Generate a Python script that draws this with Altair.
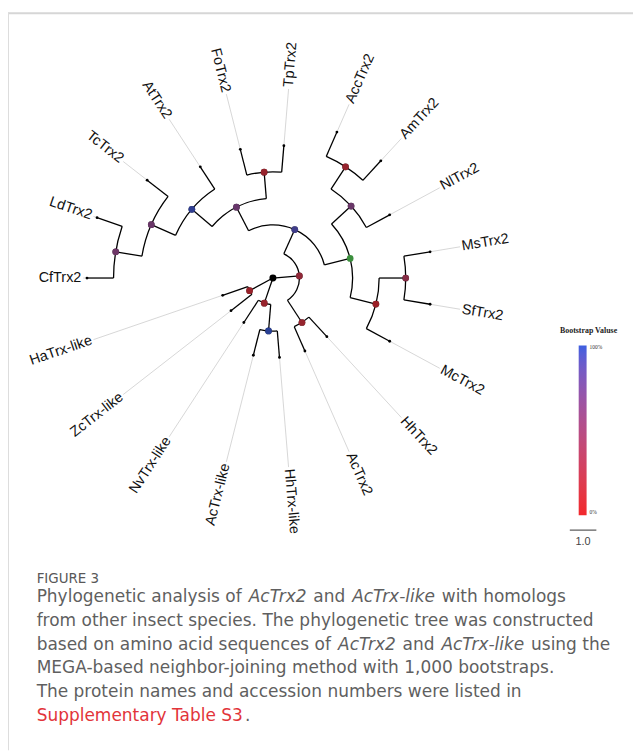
import math
from collections import defaultdict

import altair as alt
import pandas as pd

# ---------------- data ----------------
LEAVES = ["CfTrx2", "LdTrx2", "TcTrx2", "AtTrx2", "FoTrx2", "TpTrx2", "AccTrx2",
          "AmTrx2", "NlTrx2", "MsTrx2", "SfTrx2", "McTrx2", "HhTrx2", "AcTrx2",
          "HhTrx-like", "AcTrx-like", "NvTrx-like", "ZcTrx-like", "HaTrx-like"]

EDGE_CHILD = ["nA", "nE", "nF",
              "nB", "nH",
              "nC", "nD",
              "nP3", "nR1",
              "AtTrx2", "nP2",
              "TcTrx2", "nP1",
              "LdTrx2", "CfTrx2",
              "FoTrx2", "TpTrx2",
              "nP4", "nR4",
              "nR2", "NlTrx2",
              "AccTrx2", "AmTrx2",
              "nR3", "McTrx2",
              "MsTrx2", "SfTrx2",
              "HhTrx2", "AcTrx2",
              "nG", "NvTrx-like",
              "HhTrx-like", "AcTrx-like",
              "ZcTrx-like", "HaTrx-like"]
EDGE_PARENT = ["root", "root", "root",
               "nA", "nA",
               "nB", "nB",
               "nC", "nC",
               "nP3", "nP3",
               "nP2", "nP2",
               "nP1", "nP1",
               "nR1", "nR1",
               "nD", "nD",
               "nP4", "nP4",
               "nR2", "nR2",
               "nR4", "nR4",
               "nR3", "nR3",
               "nH", "nH",
               "nF", "nF",
               "nG", "nG",
               "nE", "nE"]
EDGE_LEN = [1.0, 1.0, 1.0,
            1.0, 1.0,
            1.0, 1.0,
            1.0, 1.0,
            1.0, 1.0,
            1.0, 1.0,
            1.0, 1.0,
            1.0, 1.0,
            1.0, 1.0,
            1.0, 1.0,
            1.0, 1.0,
            1.0, 1.0,
            1.0, 1.0,
            1.0, 1.0,
            1.0, 1.0,
            1.0, 1.0,
            1.0, 1.0]

NODE_NAMES = ["nA", "nB", "nC", "nD", "nE", "nF", "nG", "nH",
              "nP1", "nP2", "nP3", "nP4", "nR1", "nR2", "nR3", "nR4"]
BOOTSTRAP = [22, 92, 66, None, 10, 12, 100, 14,
             62, 64, 98, 64, 12, 14, 34, 8]

SCALE_BAR_LEN = 1.0
LEGEND_VALUES = [0, 100]

CAPTION_HEAD = "FIGURE 3"
CAPTION_SEGMENTS = [
    # (line, text, italic, link)
    (0, "Phylogenetic analysis of", False, False),
    (0, "AcTrx2", True, False),
    (0, "and", False, False),
    (0, "AcTrx-like", True, False),
    (0, "with homologs", False, False),
    (1, "from other insect species. The phylogenetic tree was constructed", False, False),
    (2, "based on amino acid sequences of", False, False),
    (2, "AcTrx2", True, False),
    (2, "and", False, False),
    (2, "AcTrx-like", True, False),
    (2, "using the", False, False),
    (3, "MEGA-based neighbor-joining method with 1,000 bootstraps.", False, False),
    (4, "The protein names and accession numbers were listed in", False, False),
    (5, "Supplementary Table S3", False, True),
    (5, ".", False, False),
]
# segments that follow the previous one without a space
NO_SPACE_BEFORE = ["."]

# ---------------- layout ----------------
W, H = 633, 747
PX = 26.9            # pixels per branch-length unit
CX, CY = 268.3, 268.7  # root position inside the view
N = len(LEAVES)
START = 270.0
STEP = 360.0 / N
R_LABEL = 194.0 / PX
FONT = "Liberation Sans"
LABEL_SIZE = 14.6
CAP_FONT = "DejaVu Sans"
CAP_SIZE = 17.2
CAP_X0 = 37.0
CAP_LINE_Y = [600, 624, 648, 672, 696, 720]

# DejaVu Sans advance widths (units of 1/2048 em) for caption layout
ADV = {" ": 651, ".": 651, "-": 739, ",": 651, "2": 1303, "A": 1401, "M": 1767,
       "P": 1235, "S": 1300, "T": 1251, "a": 1255, "b": 1300, "c": 1126, "d": 1300,
       "e": 1260, "f": 721, "g": 1300, "h": 1298, "i": 569, "k": 1186, "l": 569,
       "m": 1995, "n": 1298, "o": 1253, "p": 1300, "q": 1300, "r": 842, "s": 1067,
       "t": 803, "u": 1298, "x": 1212, "y": 1212, "w": 1675}


def text_w(s):
    return sum(ADV.get(ch, 1250) for ch in s) / 2048.0 * CAP_SIZE


XMIN, XMAX = -CX / PX, (W - CX) / PX
YMAX, YMIN = CY / PX, -(H - CY) / PX


def ux(px):
    return (px - 8 - CX) / PX


def uy(py):
    return (CY - (py - 8)) / PX


children = defaultdict(list)
parent, blen = {}, {}
for c, p, l in zip(EDGE_CHILD, EDGE_PARENT, EDGE_LEN):
    children[p].append(c)
    parent[c] = p
    blen[c] = l

depth = {"root": 0.0}
pos = {}


def walk(n):
    for c in children[n]:
        depth[c] = depth[n] + blen[c]
        walk(c)
    if n in LEAVES:
        pos[n] = float(LEAVES.index(n))
    else:
        pos[n] = sum(pos[c] for c in children[n]) / len(children[n])


walk("root")

branch_df = pd.DataFrame({
    "pos": [pos[c] for c in EDGE_CHILD],
    "r0": [depth[p] for p in EDGE_PARENT],
    "r1": [depth[c] for c in EDGE_CHILD],
})
arc_df = pd.DataFrame({
    "r": [depth[n] for n in NODE_NAMES],
    "p0": [min(pos[c] for c in children[n]) for n in NODE_NAMES],
    "p1": [max(pos[c] for c in children[n]) for n in NODE_NAMES],
})
node_df = pd.DataFrame({
    "pos": [pos[n] for n in NODE_NAMES],
    "r": [depth[n] for n in NODE_NAMES],
    "boot": BOOTSTRAP,
})
root_df = pd.DataFrame({"pos": [pos["root"]], "r": [0.0]})
tip_df = pd.DataFrame({
    "name": LEAVES,
    "pos": [pos[n] for n in LEAVES],
    "r": [depth[n] for n in LEAVES],
    "rl": [R_LABEL] * N,
})

XS = alt.Scale(domain=[XMIN, XMAX], nice=False, zero=False)
YS = alt.Scale(domain=[YMIN, YMAX], nice=False, zero=False)
TS = alt.Scale(type="linear", domain=[0, 360], range=[0, 2 * math.pi], zero=False)
RS = alt.Scale(type="linear", domain=[0, 10], range=[0, 10 * PX], zero=True)

theta_expr = f"{START} + datum.pos * {STEP}"
sin_t = "sin(datum.theta * PI / 180)"
cos_t = "cos(datum.theta * PI / 180)"


def polar(chart, rfield="r", xname="x", yname="y"):
    return chart.transform_calculate(
        **{xname: f"datum.{rfield} * {sin_t}", yname: f"datum.{rfield} * {cos_t}"})


def X(f):
    return alt.X(f, type="quantitative", scale=XS, axis=None)


def Y(f):
    return alt.Y(f, type="quantitative", scale=YS, axis=None)


# radial branches
branches = polar(polar(alt.Chart(branch_df).transform_calculate(theta=theta_expr),
                       "r0", "x0", "y0"), "r1", "x1", "y1").mark_rule(
    color="black", strokeWidth=1.3).encode(
    x=X("x0"), y=Y("y0"), x2="x1:Q", y2="y1:Q")

# arcs (node connectors)
arcs = alt.Chart(arc_df).transform_calculate(
    a0=f"{START} + datum.p0 * {STEP}", a1=f"{START} + datum.p1 * {STEP}"
).mark_arc(filled=False, stroke="black", strokeWidth=1.3).encode(
    x=alt.XDatum(0, type="quantitative", scale=XS, axis=None),
    y=alt.YDatum(0, type="quantitative", scale=YS, axis=None),
    theta=alt.Theta("a0:Q", scale=TS, stack=False),
    theta2="a1:Q",
    radius=alt.Radius("r:Q", scale=RS),
    radius2="r:Q",
)

# leader lines
leaders = polar(polar(alt.Chart(tip_df).transform_calculate(theta=theta_expr),
                      "r", "x0", "y0").transform_calculate(rl2="datum.rl - 0.07"),
                "rl2", "x1", "y1").mark_rule(color="#c4c4c4", strokeWidth=0.7).encode(
    x=X("x0"), y=Y("y0"), x2="x1:Q", y2="y1:Q")

tips = polar(alt.Chart(tip_df).transform_calculate(theta=theta_expr)).mark_circle(
    size=8, color="black", opacity=1).encode(x=X("x"), y=Y("y"))

base_nodes = polar(alt.Chart(node_df).transform_calculate(theta=theta_expr))
node_under = base_nodes.transform_filter("isValid(datum.boot)").mark_circle(
    size=46, color="black", opacity=1).encode(x=X("x"), y=Y("y"))
node_col = base_nodes.transform_filter("isValid(datum.boot)").mark_circle(
    size=46, opacity=0.66).encode(
    x=X("x"), y=Y("y"),
    color=alt.Color("boot:Q",
                    scale=alt.Scale(domain=[0, 100], range=["#f2282c", "#3d5fe0"],
                                    interpolate="lab"),
                    legend=alt.Legend(title=None, orient="none", legendX=578, legendY=337,
                                      direction="vertical", gradientLength=172,
                                      gradientThickness=8, gradientOpacity=1,
                                      gradientStrokeWidth=0, values=LEGEND_VALUES,
                                      labelExpr="datum.value + '%'",
                                      labelFont="Liberation Serif", labelFontSize=5.5,
                                      labelColor="#333333", labelOffset=3)))
node_na = base_nodes.transform_filter("!isValid(datum.boot)").mark_circle(
    size=46, color="#3b8f3d", opacity=1).encode(x=X("x"), y=Y("y"))
root = polar(alt.Chart(root_df).transform_calculate(theta=theta_expr)).mark_circle(
    size=50, color="black", opacity=1).encode(x=X("x"), y=Y("y"))

# labels
lab_base = polar(alt.Chart(tip_df).transform_calculate(theta=theta_expr), "rl").transform_calculate(
    side=f"{sin_t} >= 0 ? 'R' : 'L'",
    rotR="((datum.theta - 90) % 360 + 360) % 360",
    rotL="((datum.theta + 90) % 360 + 360) % 360",
)
lab_r = lab_base.transform_filter("datum.side == 'R'").mark_text(
    align="left", baseline="middle", font=FONT, fontSize=LABEL_SIZE, color="#111111").encode(
    x=X("x"), y=Y("y"), text="name:N", angle=alt.Angle("rotR:Q", scale=None))
lab_l = lab_base.transform_filter("datum.side == 'L'").mark_text(
    align="right", baseline="middle", font=FONT, fontSize=LABEL_SIZE, color="#111111").encode(
    x=X("x"), y=Y("y"), text="name:N", angle=alt.Angle("rotL:Q", scale=None))

# scale bar
sb_x0, sb_y = ux(577.0), uy(532.0)
sb_df = pd.DataFrame({"x0": [sb_x0], "x1": [sb_x0 + SCALE_BAR_LEN], "y": [sb_y],
                      "tx": [sb_x0 + SCALE_BAR_LEN / 2], "ty": [uy(544.0)],
                      "label": [f"{SCALE_BAR_LEN:.1f}"]})
sbar = alt.Chart(sb_df).mark_rule(color="#333333", strokeWidth=1).encode(
    x=X("x0"), x2="x1:Q", y=Y("y"))
stext = alt.Chart(sb_df).mark_text(font=FONT, fontSize=11, color="#444444",
                                   baseline="middle").encode(
    x=X("tx"), y=Y("ty"), text="label:N")

legend_title = alt.Chart(pd.DataFrame({"t": ["Bootstrap Valuse"]})).mark_text(
    font="Liberation Serif", fontSize=8, fontWeight="bold", color="#222222",
    align="center", baseline="middle").encode(
    x=alt.value(588), y=alt.value(322), text="t:N")

# caption (segments chained along each line)
seg_x = []
cursor = {}
for line, text, italic, link in CAPTION_SEGMENTS:
    if line not in cursor:
        x = CAP_X0
    elif text in NO_SPACE_BEFORE:
        x = cursor[line] - 0.5
    else:
        x = cursor[line] + text_w(" ") + (1.5 if italic else 0.0)
    seg_x.append(x)
    cursor[line] = x + text_w(text)

cap_df = pd.DataFrame({
    "text": [s[1] for s in CAPTION_SEGMENTS],
    "x": [ux(v) for v in seg_x],
    "y": [uy(CAP_LINE_Y[s[0]]) for s in CAPTION_SEGMENTS],
    "italic": [s[2] for s in CAPTION_SEGMENTS],
    "col": ["#e2343a" if s[3] else "#5f5f5f" for s in CAPTION_SEGMENTS],
})
cap_n = alt.Chart(cap_df).transform_filter("!datum.italic").mark_text(
    align="left", baseline="middle", font=CAP_FONT, fontSize=CAP_SIZE).encode(
    x=X("x"), y=Y("y"), text="text:N", color=alt.Color("col:N", scale=None))
cap_i = alt.Chart(cap_df).transform_filter("datum.italic").mark_text(
    align="left", baseline="middle", font=CAP_FONT, fontSize=CAP_SIZE, fontStyle="italic").encode(
    x=X("x"), y=Y("y"), text="text:N", color=alt.Color("col:N", scale=None))
head_df = pd.DataFrame({"t": [CAPTION_HEAD], "x": [ux(CAP_X0)], "y": [uy(581.5)]})
cap_h = alt.Chart(head_df).mark_text(align="left", baseline="middle", font=CAP_FONT,
                                     fontSize=13.6, fontWeight=500, color="#585858").encode(
    x=X("x"), y=Y("y"), text="t:N")

frame_top = alt.Chart(pd.DataFrame({"a": [0]})).mark_rule(color="#d6d6d6", strokeWidth=2).encode(
    x=alt.value(0), x2=alt.value(W), y=alt.value(0.5))
frame_left = alt.Chart(pd.DataFrame({"a": [0]})).mark_rule(color="#dcdcdc", strokeWidth=1).encode(
    x=alt.value(0.5), y=alt.value(0), y2=alt.value(H))

chart = alt.layer(
    frame_top, frame_left,
    leaders, arcs, branches, tips,
    node_under, node_col, node_na, root,
    lab_r, lab_l, sbar, stext, legend_title,
    cap_h, cap_n, cap_i,
).properties(
    width=W, height=H, padding=0,
    autosize=alt.AutoSizeParams(type="none"),
).configure_view(stroke=None)

chart.save("out.html", embed_options={"renderer": "svg", "actions": False})
